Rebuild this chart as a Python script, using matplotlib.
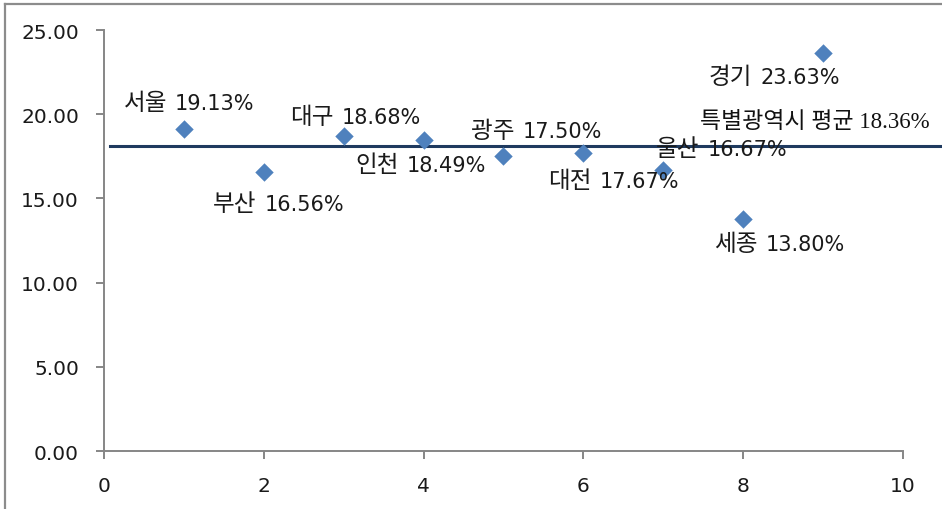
import matplotlib

matplotlib.use("Agg")
import matplotlib.pyplot as plt
from matplotlib.lines import Line2D

# Verdana-like latin + Korean fallback
plt.rcParams["font.family"] = ["DejaVu Sans", "Noto Sans CJK KR"]

# data
regions = ["서울", "부산", "대구", "인천", "광주", "대전", "울산", "세종", "경기"]
xs = [1, 2, 3, 4, 5, 6, 7, 8, 9]
rates = [19.13, 16.56, 18.68, 18.49, 17.50, 17.67, 16.67, 13.80, 23.63]
avg_label = "특별광역시 평균 18.36%"
avg_line_level = 18.13  # where the line is actually drawn in the picture
x_ticks = [0, 2, 4, 6, 8, 10]
y_ticks = [0, 5, 10, 15, 20, 25]

# label offsets in pixels (dx, dy) from each point to the label centre
label_offsets = [(3, 27), (13, -31), (10, 20), (-5, -24), (31, 26),
                 (28, -27), (56, 22), (34, -24), (-51, -23)]

fig = plt.figure(figsize=(9.42, 5.10), dpi=100)
ax = fig.add_axes([0.1104, 0.1137, 0.9586 - 0.1104, 0.9392 - 0.1137])

ax.scatter(xs, rates, marker="D", s=88, color="#4F81BD", zorder=3,
           linewidths=0)

# the Korean name is drawn a bit larger than the number, as in the source;
# both parts share one baseline
for name, x, y, (dx, dy) in zip(regions, xs, rates, label_offsets):
    split = dx - 16
    base = dy - 7
    ax.annotate(name, (x, y), xytext=(split - 4, base),
                textcoords="offset pixels", ha="right", va="baseline",
                fontsize=17, color="#1a1a1a", family="Noto Sans CJK KR",
                zorder=4)
    ax.annotate(f"{y:.2f}%", (x, y), xytext=(split + 4, base),
                textcoords="offset pixels", ha="left", va="baseline",
                fontsize=15, color="#1a1a1a", zorder=4)

# average line runs from the y axis to the right edge of the figure
ax.plot([0.07, 10.5], [avg_line_level, avg_line_level], color="#1F3A5F",
        lw=2.2, clip_on=False, zorder=2)
ax.annotate(avg_label, (9.0, avg_line_level), xytext=(814 - 822, 148 - 124),
            textcoords="offset pixels", ha="center", va="center",
            fontsize=16.5, color="#111111",
            family=["Liberation Serif", "Noto Sans CJK KR"])

ax.set_xlim(0, 10)
ax.set_ylim(0, 25)
ax.set_xticks(x_ticks)
ax.set_yticks(y_ticks)
ax.set_yticklabels([f"{v:.2f}" for v in y_ticks])

for side in ("top", "right"):
    ax.spines[side].set_visible(False)
for side in ("left", "bottom"):
    ax.spines[side].set_color("#868686")
    ax.spines[side].set_linewidth(1.4)
ax.tick_params(axis="both", direction="out", length=6, width=1.4,
               color="#868686", labelsize=14.5, labelcolor="#1a1a1a")
ax.tick_params(axis="y", pad=12)
ax.tick_params(axis="x", pad=12)

# chart frame (top and left edges visible in the reference)
fig.add_artist(Line2D([0.005, 0.005], [0, 0.991], transform=fig.transFigure,
                      color="#8c8c8c", lw=1.6))
fig.add_artist(Line2D([0.005, 1], [0.991, 0.991], transform=fig.transFigure,
                      color="#8c8c8c", lw=1.6))

fig.savefig("out.png", dpi=100)
